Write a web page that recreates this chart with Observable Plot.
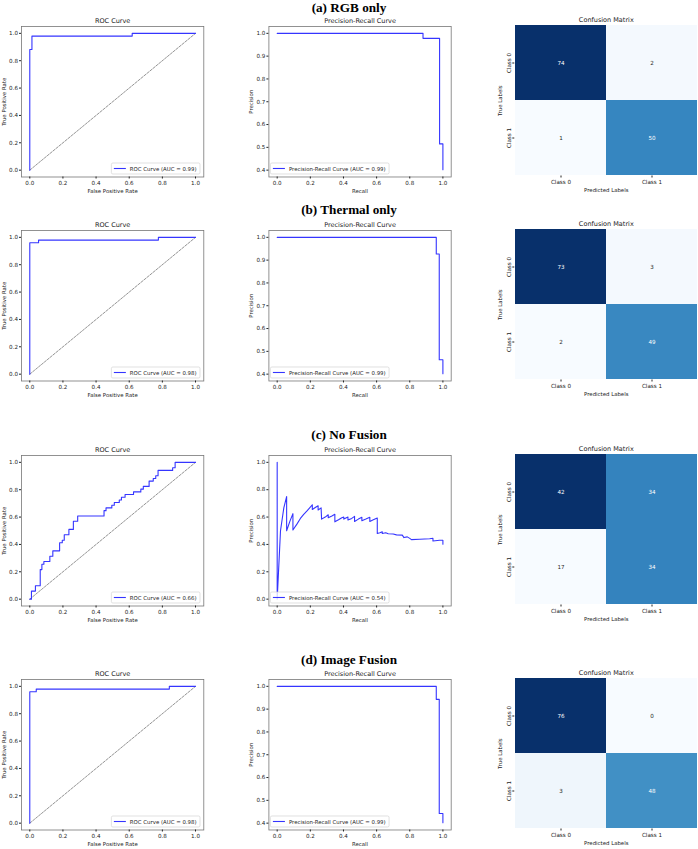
<!DOCTYPE html>
<html><head><meta charset="utf-8">
<script src="https://cdn.jsdelivr.net/npm/d3@7"></script>
<script src="https://cdn.jsdelivr.net/npm/@observablehq/plot@0.6"></script>
<style>
html,body{margin:0;padding:0;background:#fff;}
#fig{position:relative;width:698px;height:849px;overflow:hidden;background:#fff;}
.rowtitle{position:absolute;left:0;width:698px;text-align:center;font-family:"Liberation Serif","Times New Roman",serif;font-weight:bold;font-size:13.2px;line-height:13.2px;color:#000;}
.panel{position:absolute;}
.panel svg{overflow:visible;}
</style></head><body><div id="fig"></div><script>
// ---------- data ----------
const rowTitles = ["(a) RGB only", "(b) Thermal only", "(c) No Fusion", "(d) Image Fusion"];
const rocAUC = ["0.99", "0.98", "0.66", "0.98"];
const prAUC = ["0.99", "0.99", "0.54", "0.99"];
const classes = ["Class 0", "Class 1"];
const rocTicks = [0, 0.2, 0.4, 0.6, 0.8, 1.0];
const prTicksHigh = [0.4, 0.5, 0.6, 0.7, 0.8, 0.9, 1.0];
const diagonal = [[0, 0], [1, 1]];

const rocA = [[0,0],[0,0.882],[0.013,0.882],[0.013,0.98],[0.618,0.98],[0.618,1],[1,1]];
const rocB = [[0,0],[0,0.961],[0.053,0.961],[0.053,0.98],[0.776,0.98],[0.776,1],[1,1]];
const rocC = [[0,0],[0.01,0],[0.01,0.059],[0.034,0.059],[0.034,0.098],[0.063,0.098],[0.063,0.216],
  [0.073,0.216],[0.073,0.255],[0.085,0.255],[0.085,0.275],[0.121,0.275],[0.121,0.314],[0.139,0.314],
  [0.139,0.353],[0.18,0.353],[0.18,0.412],[0.196,0.412],[0.196,0.431],[0.208,0.431],[0.208,0.471],
  [0.236,0.471],[0.236,0.51],[0.263,0.51],[0.263,0.569],[0.289,0.569],[0.289,0.608],[0.448,0.608],
  [0.448,0.647],[0.46,0.647],[0.46,0.667],[0.495,0.667],[0.495,0.686],[0.51,0.686],[0.51,0.706],
  [0.54,0.706],[0.54,0.725],[0.553,0.725],[0.553,0.745],[0.575,0.745],[0.575,0.765],[0.626,0.765],
  [0.626,0.784],[0.67,0.784],[0.67,0.804],[0.685,0.804],[0.685,0.824],[0.72,0.824],[0.72,0.863],
  [0.745,0.863],[0.745,0.882],[0.76,0.882],[0.76,0.902],[0.774,0.902],[0.774,0.941],[0.862,0.941],
  [0.862,0.961],[0.877,0.961],[0.877,1],[1,1]];
const rocD = [[0,0],[0,0.961],[0.039,0.961],[0.039,0.98],[0.842,0.98],[0.842,1],[1,1]];

const prA = [[0,1],[0.88,1],[0.88,0.978],[0.98,0.978],[0.98,0.515],[1,0.515],[1,0.402]];
const prB = [[0,1],[0.96,1],[0.96,0.927],[0.978,0.927],[0.978,0.463],[1,0.463],[1,0.402]];
const prC = [[0,1],[0,0],[0.02,0.5],[0.04,0.667],[0.057,0.75],[0.057,0.5],[0.077,0.57],[0.095,0.625],
  [0.095,0.505],[0.12,0.55],[0.14,0.59],[0.16,0.62],[0.18,0.645],[0.196,0.667],[0.212,0.69],
  [0.212,0.655],[0.23,0.67],[0.247,0.683],[0.247,0.652],[0.265,0.667],[0.268,0.585],[0.29,0.6],
  [0.308,0.617],[0.308,0.595],[0.33,0.608],[0.348,0.62],[0.348,0.565],[0.37,0.58],[0.39,0.595],
  [0.402,0.6],[0.402,0.585],[0.427,0.6],[0.427,0.578],[0.45,0.59],[0.467,0.605],[0.467,0.568],
  [0.49,0.585],[0.511,0.598],[0.511,0.573],[0.535,0.585],[0.559,0.598],[0.559,0.568],[0.58,0.58],
  [0.604,0.593],[0.604,0.48],[0.62,0.485],[0.634,0.493],[0.634,0.48],[0.655,0.485],[0.67,0.478],
  [0.7,0.476],[0.72,0.47],[0.755,0.468],[0.765,0.45],[0.785,0.455],[0.8,0.444],[0.81,0.435],
  [0.86,0.438],[0.92,0.441],[0.94,0.445],[0.94,0.425],[0.98,0.43],[1,0.43],[1,0.402]];
const prD = [[0,1],[0.96,1],[0.96,0.943],[0.978,0.943],[0.978,0.442],[1,0.442],[1,0.402]];

const cmA = [[74, 2], [1, 50]];
const cmB = [[73, 3], [2, 49]];
const cmC = [[42, 34], [17, 34]];
const cmD = [[76, 0], [3, 48]];

// ---------- layout ----------
const FONT = "DejaVu Sans";
const TXT = "#222";
const CURVE = "#3535ff";
const TICKFS = 5.6, LABFS = 5.4;
const frameTops = [26, 230, 455, 679];
const titleTops = [0.7, 203.4, 427.7, 652.7];
const FH = 150.5, MT = 14, MB = 20.5, H = MT + FH + MB;
const fmt = d3.format(".1f");
const fig = document.getElementById("fig");

function commonText(title, xlab, ylab, ydx) {
  return [
    Plot.text([title], {text: d => d, frameAnchor: "top", dy: -5.5, lineAnchor: "middle", textAnchor: "middle", fontSize: 6.5, fill: TXT}),
    Plot.text([xlab], {text: d => d, frameAnchor: "bottom", dy: 14.5, lineAnchor: "middle", textAnchor: "middle", fontSize: LABFS, fill: TXT}),
    Plot.text([ylab], {text: d => d, frameAnchor: "left", dx: ydx, rotate: -90, lineAnchor: "middle", textAnchor: "middle", fontSize: LABFS, fill: TXT})
  ];
}

function place(svg, left, top) {
  const div = document.createElement("div");
  div.className = "panel";
  div.style.left = left + "px";
  div.style.top = top + "px";
  div.appendChild(svg);
  fig.appendChild(div);
}

function addLegend(svg, label, side, fr) {
  const g = d3.select(svg).append("g").attr("text-anchor", "start");
  const txt = g.append("text").attr("font-size", LABFS).attr("font-family", FONT)
    .attr("text-anchor", "start").attr("fill", TXT).attr("dominant-baseline", "central").text(label);
  const tw = txt.node().getComputedTextLength();
  const h = 11, w = 2.5 + 12 + 4 + tw + 3.5;
  const x0 = side === "right" ? fr.right - 3.3 - w : fr.left + 2;
  const y0 = fr.bottom - 2.5 - h;
  g.insert("rect", "text").attr("x", x0).attr("y", y0).attr("width", w).attr("height", h)
    .attr("rx", 1.5).attr("fill", "white").attr("fill-opacity", 0.8).attr("stroke", "#ccc").attr("stroke-width", 0.6);
  g.insert("line", "text").attr("x1", x0 + 2.5).attr("x2", x0 + 14.5).attr("y1", y0 + h / 2).attr("y2", y0 + h / 2)
    .attr("stroke", CURVE).attr("stroke-width", 1.1);
  txt.attr("x", x0 + 18.5).attr("y", y0 + h / 2 + 0.3);
}

function curvePanel(opts) {
  const pts = opts.data.map(([x, y]) => ({x, y}));
  const diag = diagonal.map(([x, y]) => ({x, y}));
  const W = opts.ml + 182.3 + opts.mr;
  const marks = [];
  if (opts.diag) marks.push(Plot.line(diag, {x: "x", y: "y", stroke: "#777", strokeWidth: 0.8, strokeDasharray: "2.4,1.4"}));
  marks.push(
    Plot.line(pts, {x: "x", y: "y", stroke: CURVE, strokeWidth: 1.1}),
    Plot.frame({stroke: "#777", strokeWidth: 0.8}),
    Plot.axisX({ticks: rocTicks, tickFormat: fmt, tickSize: 2, tickPadding: 2, label: null, fontSize: TICKFS}),
    Plot.axisY({ticks: opts.yticks, tickFormat: fmt, tickSize: 2, tickPadding: 1.5, label: null, fontSize: TICKFS}),
    ...commonText(opts.title, opts.xlab, opts.ylab, opts.ydx)
  );
  const svg = Plot.plot({
    width: W, height: H, marginLeft: opts.ml, marginRight: opts.mr, marginTop: MT, marginBottom: MB,
    style: {fontFamily: FONT, fontSize: TICKFS + "px", color: TXT, background: "transparent", overflow: "visible"},
    x: {domain: [-0.05, 1.05]},
    y: {domain: opts.ydomain},
    marks
  });
  place(svg, opts.left, opts.top);
  addLegend(svg, opts.legend, opts.side, {left: opts.ml, right: W - opts.mr, bottom: H - MB});
}

function cmPanel(m, left, top) {
  const cells = [];
  classes.forEach((t, i) => classes.forEach((p, j) => cells.push({t, p, v: m[i][j]})));
  const lo = d3.min(cells, d => d.v), hi = d3.max(cells, d => d.v);
  const dark = d => (d.v - lo) / (hi - lo) > 0.5;
  const ml = 20.3, mr = 0.7, W = ml + 183 + mr;
  const svg = Plot.plot({
    width: W, height: H, marginLeft: ml, marginRight: mr, marginTop: MT - 1, marginBottom: MB + 1,
    style: {fontFamily: FONT, fontSize: TICKFS + "px", color: TXT, background: "transparent", overflow: "visible"},
    x: {domain: classes, padding: 0},
    y: {domain: classes, padding: 0},
    color: {type: "linear", scheme: "blues", domain: [lo, hi]},
    marks: [
      Plot.cell(cells, {x: "p", y: "t", fill: "v"}),
      Plot.text(cells, {x: "p", y: "t", text: d => String(d.v), filter: dark, fill: "white", fontSize: TICKFS}),
      Plot.text(cells, {x: "p", y: "t", text: d => String(d.v), filter: d => !dark(d), fill: "#262626", fontSize: TICKFS}),
      Plot.axisX({tickSize: 2, tickPadding: 2, label: null, fontSize: TICKFS}),
      Plot.axisY({tickSize: 2, tickFormat: () => "", label: null}),
      Plot.text(classes, {y: d => d, text: d => d, frameAnchor: "left", dx: -6, rotate: -90, lineAnchor: "middle", textAnchor: "middle", fontSize: TICKFS, fill: TXT}),
      ...commonText("Confusion Matrix", "Predicted Labels", "True Labels", -15)
    ]
  });
  place(svg, left, top);
}

const rocs = [rocA, rocB, rocC, rocD];
const prs = [prA, prB, prC, prD];
const cms = [cmA, cmB, cmC, cmD];

rowTitles.forEach((t, r) => {
  const div = document.createElement("div");
  div.className = "rowtitle";
  div.style.top = titleTops[r] + "px";
  div.textContent = t;
  fig.appendChild(div);
  const top = frameTops[r] - MT;
  curvePanel({data: rocs[r], diag: true, left: 0, top, ml: 21, mr: 5.7,
    ydomain: [-0.05, 1.05], yticks: rocTicks, title: "ROC Curve", xlab: "False Positive Rate",
    ylab: "True Positive Rate", ydx: -17, legend: `ROC Curve (AUC = ${rocAUC[r]})`, side: "right"});
  const full = r === 2;
  curvePanel({data: prs[r], diag: false, left: 248, top, ml: 20.4, mr: 5,
    ydomain: full ? [-0.05, 1.05] : [0.37, 1.03], yticks: full ? rocTicks : prTicksHigh,
    title: "Precision-Recall Curve", xlab: "Recall", ylab: "Precision", ydx: -17.7,
    legend: `Precision-Recall Curve (AUC = ${prAUC[r]})`, side: "left"});
  cmPanel(cms[r], 494, top);
});
</script></body></html>
